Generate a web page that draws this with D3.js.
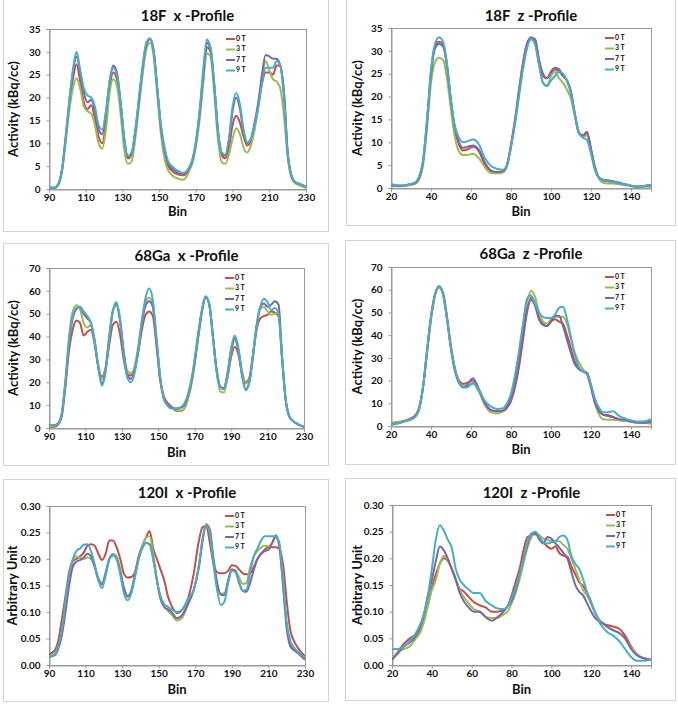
<!DOCTYPE html>
<html><head><meta charset="utf-8">
<script src="https://cdn.jsdelivr.net/npm/d3@7/dist/d3.min.js"></script>
<style>
body{margin:0;background:#fff;}
svg{display:block;font-family:Lato,"Open Sans",sans-serif;}
</style></head>
<body><svg id="c" width="678" height="706"></svg>
<script>
const seriesNames = ["0 T","3 T","7 T","9 T"];
const seriesColors = ["#c0504d","#9bbb59","#8064a2","#4bacc6"];
const binsX = [90,93,95,97,99,101,103,105,107,109,111,113,115,117,119,121,123,125,127,129,131,133,135,137,139,141,143,145,147,149,151,153,155,157,160,163,166,169,172,174,176,178,180,182,184,186,188,190,192,194,196,198,200,202,204,206,208,210,212,214,216,218,220,222,224,227,230];
const binsZ = [20,23,26,29,32,34,36,38,40,42,44,46,48,50,52,54,56,58,61,64,67,70,73,76,78,80,82,84,86,88,90,92,94,96,98,100,102,104,106,108,110,112,114,116,118,120,122,124,126,128,131,134,137,140,143,146,150];
const ticksX = [90,110,130,150,170,190,210,230];
const ticksZ = [20,40,60,80,100,120,140];
const ticksF = [0,5,10,15,20,25,30,35];
const ticksGa = [0,10,20,30,40,50,60,70];
const ticksI = [0,0.05,0.10,0.15,0.20,0.25,0.30];

// 18F x-profile
const f18x_0T = [0.3,0.3,1,4,10.5,18,24,27.3,23.5,19, 17.5,18.3,15.5,11.5,10,14.5,22,25.5,24,18.5, 10.5,6.7,7.5,12,19,26,31.5,32.8,30,21.5, 13,8,5,4,3.2,3,4,7.5,16,24, 31,30,22.5,12.5,7.5,6.7,9,14,16,14.5, 11.5,9.5,10.5,13.5,18,23,25.5,25.5,25,27, 27,21,8,3,1.5,1,0.5];
const f18x_3T = [0.2,0.2,0.8,3.5,10,17,22,24.2,22,18, 17,16.5,14,10,8.8,13,21,24,22.5,16.5, 8.5,5.5,6,11,18,25,30.5,32,29,20.5, 12,6.5,4,3,2.3,2,3.5,7,15,23, 29.7,29,21,11,6,5.5,7.5,11,13.3,12, 9,8,9.5,13,18,24,28,26,24,23.5, 22,16,7,2.5,1.3,0.7,0.2];
const f18x_7T = [0.3,0.3,1,4,11,19,25.5,29,25.5,21, 19,19.5,17,13,12,16.5,23.5,27,25.5,19, 11,7,7.8,12.5,19.5,26.5,31.5,32.8,30.5,22, 13.5,8.5,5.5,4.5,3.6,3.3,4.3,7.8,16.5,25, 32,30.5,23,13,8,7.3,10.5,17,20,17.5, 12.5,10,11,14.5,19,25,29.3,29,28.5,28.5, 27,21,8,3,1.5,1,0.5];
const f18x_9T = [0.3,0.3,1,4,11,19,26,30,26,22, 20.5,20,18,14,13,17,23.5,26.5,25,19, 11,7.2,8,13,20,27,32,33,30,22, 14,9,6,5,4,3.5,4.5,8,17,26, 32.7,31,23,13,8,7.5,11,18,21,18.5, 13,10.2,11,14,18,23,26.5,26.5,26.5,28, 27,20,8,3,1.5,1,0.5];
// 18F z-profile
const f18z_0T = [0.6,0.5,0.5,0.7,1,2,5.5,14,25,31, 32,31.5,27,19,12.5,9.5,8.2,8.4,9,8, 5,3.7,3.5,3.7,5,9.5,15,21.5,27.5,31.5, 33,32.5,28,25,24,25,26,25.5,24.5,23.5, 21,16,12,11.5,12,8.5,4.5,2.2,1.7,1.5, 1.3,1,0.8,0.5,0.3,0.4,0.6];
const f18z_3T = [0.4,0.4,0.4,0.6,0.9,1.8,5,13,23,27.5, 28.5,28,24,17,11,8,7.2,7.2,7.5,6.5, 4.5,3.3,3.2,3.4,4.8,9,14.5,21,27,31, 32.5,31.5,27,23,22.5,24.5,25.5,24,23,21.5, 19.5,15.5,12,11.2,11.5,8,4,2,1.2,1, 1,0.8,0.6,0.4,0.3,0.3,0.3];
const f18z_7T = [0.6,0.5,0.5,0.8,1.1,2.2,5.8,14.5,25,30.5, 31.5,31,26.5,19,13,10,8.8,9,9.3,8.3, 5.5,3.8,3.5,3.7,5,9.3,14.5,21,27,31.5, 32.8,32.5,28,24.5,24,25.5,26.3,26,24.5,23.5, 21,16,12,11.5,12.3,8.5,4.5,2.3,1.8,1.7, 1.5,1.2,0.8,0.5,0.3,0.4,0.6];
const f18z_9T = [0.8,0.6,0.5,0.8,1.2,2.5,6,15,26,31.5, 33,32,27,19,13.5,11,10,10.2,10.6,9.5, 6.5,4.8,4.2,4,5,9,14,20,26,30.5, 32.7,31.5,27,23,22.3,23.5,24.5,25.5,25,23.5, 20.5,16,12,11,10.5,7.5,4,2.3,1.7,1.5, 1.3,1,0.8,0.5,0.3,0.4,0.7];
// 68Ga x-profile
const ga68x_0T = [0.5,0.6,1.5,5,18,34,43,47,46,40.5, 42,43,37,27,22.5,26,36,45,46.5,41, 30,23.5,23,26,33,43,49.5,51,49,36, 21,14,11,9.5,7.5,7.5,12,23,40,51, 57,54,40,25,18,17,22,31,35.5,32, 24,20,22,32,43,48,49,49.5,51,50.5, 49,30,12,5,3,1.5,0.5];
const ga68x_3T = [1,1,2,6.5,21,40,51,53.7,52,46, 44,45,39,28,21.5,26,40,51,53.5,47, 34,25,24,27,36,47,55,57,54,38, 22,13,10,9,8,7.5,12,23,41,51.5, 57.5,54,40,25,16,15.5,22,33,38.5,34, 25,19.5,21,31,44,52,53,51,49.5,50, 50.5,30,12,5,3,1.5,0.5];
const ga68x_7T = [1.3,1.3,2,6,19,37,48,52,53,50, 48,46,38,27,19.5,25,39,51,54.5,47, 33,23,21.5,25,34,46,53.5,55.5,53,38, 22,13,10,9,8.5,9,13.5,24,41,51.5, 57.5,54,40,26,18,17.5,24,34,39.5,34, 23,17,20,32,45,53,54.5,53,54,55.5, 54,31,12,5,3,1.5,0.5];
const ga68x_9T = [1.3,1.3,2,6,20,38,49,52.5,53,51, 49,46,38,27,18.5,24,38,51,55,48, 33,22,20,24,34,47,57,61,56,40, 23,13,10,8.5,8.5,9.5,14,25,42,52, 57.5,54,40,25,18,17,24,35,40.5,35, 23,16.5,20,32,45,53,56.5,55,51.5,52.5, 50,30,12,5,3,1.5,0.5];
// 68Ga z-profile
const ga68z_0T = [1,1.5,2,3,4.5,8,17,32,47,57.5, 61,58.5,48,35,25,20,18.5,19,20,16, 10,7,6.5,6.5,8,11,17,26,38,50, 56.5,54,48,45,44,46,47,46,45,40, 34,28,25,24,23.5,18,11,7,5,4.8, 4,3,2.5,2,1.5,1.5,2];
const ga68z_3T = [1.5,1.8,2.2,2.8,4,7.5,17,33,48,58, 61,58,47,34,24,19,17.5,17.5,18.5,15, 9,6,5.5,6.5,9,14,22,32,44,54, 59.5,57,50,46,45,47,48,48.2,48,45, 38,32,28,25,22.5,17,10,5,3,2.8, 2.7,2.5,2.2,2,1.8,1.5,1];
const ga68z_7T = [0.8,1.2,1.8,2.6,4,7.5,17,33,48,58, 61.5,58.5,47.5,34,24.5,19,17,18,21,16, 10,7,6.5,6.8,8.5,12,19,29,41,51, 55.5,53,47,44.5,44,46,48.5,48.5,44,38, 32,27,25,24,23,17,10,6.5,5,4.5, 3.8,3,2.7,2,1.5,1.3,2];
const ga68z_9T = [0.5,1,1.8,2.5,4,7,17,33,48,58, 61.5,58,47,34,25,19.5,17,17,19,15.5, 11,8.5,7.5,7.8,10,14,22,33,45,56, 57.5,54,50,48,47.5,47.5,49,52,52.5,47, 39,31,26,24,23,18,12,8,6,6, 6.5,4.5,3.3,2.5,2,2,3];
// 120I x-profile
const i120x_0T = [0.02,0.027,0.045,0.085,0.13,0.175,0.195,0.2,0.205,0.212, 0.225,0.228,0.225,0.21,0.198,0.21,0.235,0.235,0.222,0.2, 0.172,0.165,0.166,0.175,0.205,0.225,0.24,0.253,0.22,0.2, 0.18,0.16,0.13,0.112,0.098,0.105,0.125,0.17,0.235,0.26, 0.262,0.23,0.19,0.175,0.173,0.173,0.178,0.188,0.187,0.18, 0.173,0.171,0.173,0.185,0.2,0.21,0.218,0.222,0.222,0.222, 0.218,0.19,0.12,0.065,0.045,0.028,0.016];
const i120x_3T = [0.016,0.02,0.035,0.06,0.11,0.16,0.195,0.205,0.202,0.2, 0.203,0.2,0.185,0.165,0.155,0.17,0.2,0.21,0.205,0.18, 0.145,0.128,0.14,0.17,0.2,0.225,0.24,0.243,0.21,0.16, 0.125,0.11,0.102,0.095,0.084,0.09,0.115,0.14,0.185,0.235, 0.265,0.25,0.19,0.15,0.135,0.135,0.16,0.18,0.178,0.165, 0.153,0.155,0.185,0.205,0.215,0.222,0.225,0.224,0.23,0.24, 0.22,0.15,0.07,0.04,0.03,0.02,0.012];
const i120x_7T = [0.015,0.018,0.03,0.055,0.1,0.15,0.185,0.195,0.198,0.203, 0.21,0.205,0.185,0.16,0.152,0.175,0.2,0.207,0.2,0.175, 0.145,0.13,0.14,0.17,0.2,0.22,0.23,0.228,0.2,0.16, 0.125,0.11,0.105,0.1,0.088,0.095,0.115,0.14,0.185,0.235, 0.265,0.255,0.2,0.155,0.132,0.132,0.16,0.18,0.177,0.155, 0.14,0.138,0.155,0.18,0.2,0.21,0.215,0.217,0.23,0.245, 0.225,0.15,0.07,0.035,0.028,0.02,0.01];
const i120x_9T = [0.015,0.02,0.035,0.065,0.12,0.17,0.2,0.215,0.22,0.227, 0.228,0.215,0.19,0.16,0.145,0.17,0.2,0.207,0.2,0.17, 0.135,0.122,0.135,0.165,0.2,0.222,0.23,0.228,0.2,0.16, 0.13,0.115,0.11,0.105,0.1,0.105,0.125,0.14,0.19,0.24, 0.265,0.25,0.19,0.14,0.113,0.12,0.155,0.178,0.175,0.155, 0.14,0.142,0.175,0.205,0.22,0.235,0.243,0.243,0.243,0.243, 0.23,0.16,0.08,0.045,0.033,0.022,0.013];
// 120I z-profile
const i120z_0T = [0.01,0.025,0.04,0.05,0.057,0.065,0.085,0.115,0.145,0.17, 0.19,0.2,0.195,0.18,0.16,0.143,0.138,0.13,0.118,0.112, 0.108,0.1,0.1,0.103,0.11,0.13,0.155,0.18,0.215,0.24, 0.243,0.245,0.238,0.23,0.222,0.218,0.222,0.21,0.205,0.203, 0.185,0.17,0.155,0.148,0.135,0.118,0.098,0.085,0.077,0.075, 0.072,0.068,0.055,0.035,0.02,0.013,0.01];
const i120z_3T = [0.012,0.025,0.03,0.035,0.05,0.06,0.08,0.11,0.14,0.16, 0.19,0.205,0.197,0.18,0.16,0.14,0.128,0.118,0.105,0.1, 0.09,0.088,0.088,0.095,0.1,0.115,0.135,0.16,0.19,0.22, 0.24,0.248,0.243,0.237,0.235,0.232,0.232,0.232,0.225,0.218, 0.2,0.18,0.16,0.14,0.13,0.115,0.098,0.085,0.078,0.072, 0.066,0.06,0.05,0.033,0.02,0.013,0.01];
const i120z_7T = [0.01,0.022,0.035,0.042,0.055,0.07,0.095,0.13,0.16,0.195, 0.222,0.215,0.2,0.18,0.16,0.135,0.12,0.11,0.1,0.1, 0.09,0.083,0.09,0.1,0.11,0.12,0.14,0.17,0.2,0.225, 0.245,0.248,0.235,0.228,0.24,0.237,0.228,0.22,0.21,0.2, 0.175,0.15,0.137,0.13,0.115,0.1,0.088,0.082,0.078,0.072, 0.065,0.06,0.05,0.03,0.018,0.013,0.01];
const i120z_9T = [0.03,0.03,0.035,0.045,0.06,0.075,0.095,0.13,0.18,0.235, 0.262,0.252,0.235,0.22,0.18,0.16,0.15,0.143,0.135,0.135, 0.12,0.112,0.106,0.105,0.11,0.125,0.145,0.17,0.2,0.23, 0.247,0.25,0.24,0.23,0.228,0.23,0.232,0.24,0.243,0.235, 0.205,0.19,0.18,0.16,0.135,0.115,0.097,0.08,0.07,0.062, 0.055,0.045,0.03,0.015,0.008,0.008,0.01];

const panels = [
  {title:"18F  x -Profile", ylab:"Activity (kBq/cc)", bins:binsX, xd:[90,230], xt:ticksX, yd:[0,35], yt:ticksF, fmt:d3.format("d"),
   series:[f18x_0T,f18x_3T,f18x_7T,f18x_9T], frame:[3,-2,328,231], plot:[49,29,306,189], ylx:15, binY:212, titleY:21, legX:80},
  {title:"18F  z -Profile", ylab:"Activity (kBq/cc)", bins:binsZ, xd:[20,150], xt:ticksZ, yd:[0,35], yt:ticksF, fmt:d3.format("d"),
   series:[f18z_0T,f18z_3T,f18z_7T,f18z_9T], frame:[346,-2,675,225], plot:[391,28,651,188], ylx:359, binY:212, titleY:21, legX:46},
  {title:"68Ga  x -Profile", ylab:"Activity (kBq/cc)", bins:binsX, xd:[90,230], xt:ticksX, yd:[0,70], yt:ticksGa, fmt:d3.format("d"),
   series:[ga68x_0T,ga68x_3T,ga68x_7T,ga68x_9T], frame:[3,243,328,465], plot:[49,268,304,428], ylx:15, binY:453, titleY:261, legX:79},
  {title:"68Ga  z -Profile", ylab:"Activity (kBq/cc)", bins:binsZ, xd:[20,150], xt:ticksZ, yd:[0,70], yt:ticksGa, fmt:d3.format("d"),
   series:[ga68z_0T,ga68z_3T,ga68z_7T,ga68z_9T], frame:[345,240,675,464], plot:[391,267,651,426], ylx:359, binY:450, titleY:259, legX:46},
  {title:"120I  x -Profile", ylab:"Arbitrary Unit", bins:binsX, xd:[90,230], xt:ticksX, yd:[0,0.30], yt:ticksI, fmt:d3.format(".2f"),
   series:[i120x_0T,i120x_3T,i120x_7T,i120x_9T], frame:[3,479,328,701], plot:[49,506,305,665], ylx:14, binY:690, titleY:498, legX:80},
  {title:"120I  z -Profile", ylab:"Arbitrary Unit", bins:binsZ, xd:[20,150], xt:ticksZ, yd:[0,0.30], yt:ticksI, fmt:d3.format(".2f"),
   series:[i120z_0T,i120z_3T,i120z_7T,i120z_9T], frame:[345,478,675,700], plot:[392,505,651,665], ylx:359, binY:690, titleY:498, legX:45}
];

const svg = d3.select("#c");
const defs = svg.append("defs");

panels.forEach((p, pi) => {
  const [fx0, fy0, fx1, fy1] = p.frame;
  const [px0, py0, px1, py1] = p.plot;
  const g = svg.append("g");
  g.append("rect").attr("x", fx0 + 0.5).attr("y", fy0 + 0.5).attr("width", fx1 - fx0).attr("height", fy1 - fy0)
    .attr("fill", "#fff").attr("stroke", "#d4d4d4").attr("stroke-width", 1);

  const x = d3.scaleLinear().domain(p.xd).range([px0, px1]);
  const y = d3.scaleLinear().domain(p.yd).range([py1, py0]);

  defs.append("clipPath").attr("id", "clip" + pi).append("rect")
    .attr("x", px0).attr("y", py0 - 2).attr("width", px1 - px0).attr("height", py1 - py0 + 2);

  g.append("rect").attr("x", px0 + 0.5).attr("y", py0 + 0.5).attr("width", px1 - px0).attr("height", py1 - py0)
    .attr("fill", "none").attr("stroke", "#9a9a9a").attr("stroke-width", 1);

  const xa = g.append("g").attr("transform", `translate(0,${py1 + 0.5})`)
    .call(d3.axisBottom(x).tickValues(p.xt).tickSize(3).tickFormat(d3.format("d")));
  const ya = g.append("g").attr("transform", `translate(${px0 + 0.5},0)`)
    .call(d3.axisLeft(y).tickValues(p.yt).tickSize(3).tickFormat(p.fmt));
  [xa, ya].forEach(a => {
    a.select(".domain").attr("stroke", "#9a9a9a");
    a.selectAll(".tick line").attr("stroke", "#9a9a9a");
    a.selectAll(".tick text").attr("fill", "#111").attr("font-size", "10px").attr("font-weight", "bold")
      .attr("font-family", "Lato, sans-serif");
  });
  xa.selectAll(".tick text").attr("y", 4).attr("dy", "0.71em");
  ya.selectAll(".tick text").attr("dx", "-0.3em");

  const line = d3.line().x((d, i) => x(p.bins[i])).y(d => y(d)).curve(d3.curveMonotoneX);
  const lg = g.append("g").attr("clip-path", `url(#clip${pi})`);
  p.series.forEach((s, si) => {
    lg.append("path").attr("d", line(s)).attr("fill", "none")
      .attr("stroke", seriesColors[si]).attr("stroke-width", 2).attr("stroke-linejoin", "round");
  });

  g.append("text").attr("x", (px0 + px1) / 2 + 10).attr("y", p.titleY).attr("text-anchor", "middle")
    .attr("font-size", "15px").attr("font-weight", "bold").attr("fill", "#111").style("white-space", "pre")
    .text(p.title);
  g.append("text").attr("x", (px0 + px1) / 2).attr("y", p.binY + 1).attr("text-anchor", "middle")
    .attr("dominant-baseline", "middle").attr("font-size", "13px").attr("font-weight", "bold").attr("fill", "#111").text("Bin");
  g.append("text").attr("transform", `translate(${p.ylx},${(py0 + py1) / 2}) rotate(-90)`).attr("text-anchor", "middle")
    .attr("dominant-baseline", "middle").attr("font-size", "13px").attr("font-weight", "bold").attr("fill", "#111").text(p.ylab);

  const lx = px1 - p.legX, ly = py0 + 10;
  seriesNames.forEach((n, si) => {
    const yy = ly + si * 10.5;
    g.append("line").attr("x1", lx).attr("x2", lx + 9).attr("y1", yy).attr("y2", yy)
      .attr("stroke", seriesColors[si]).attr("stroke-width", 2);
    g.append("text").attr("x", lx + 10).attr("y", yy).attr("dominant-baseline", "middle")
      .attr("font-size", "7px").attr("font-weight", "bold").attr("fill", "#111").style("white-space", "pre").text(n);
  });
});
</script></body></html>
